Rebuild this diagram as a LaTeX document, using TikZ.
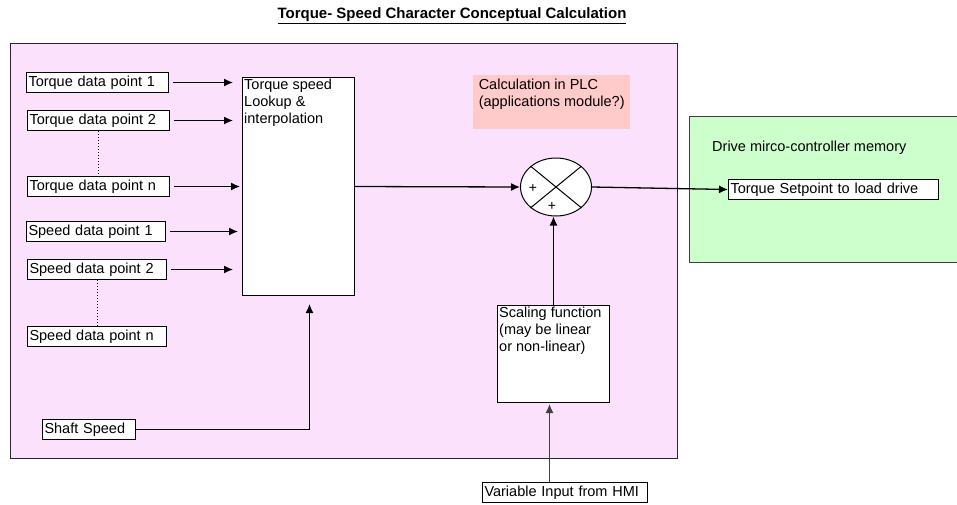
\documentclass[tikz,border=0pt]{standalone}
\usepackage{fontspec}
\setmainfont{Liberation Sans}
\usetikzlibrary{arrows.meta,calc,positioning,shapes.geometric}
\definecolor{plcpink}{HTML}{FCE1FC}
\definecolor{notepink}{HTML}{FFCACA}
\definecolor{drivegreen}{HTML}{CCFFCC}
\definecolor{wire}{HTML}{404040}
\newcommand{\bodyfont}{\fontsize{14.5}{17}\selectfont}
\tikzset{dbox/.style={draw=black, fill=white, line width=1pt, anchor=north west, inner xsep=2pt, inner ysep=0pt, minimum height=20pt, align=left, font=\bodyfont}, blk/.style={draw=black, fill=white, line width=1pt, anchor=north west, inner sep=0pt}, txt/.style={anchor=north west, align=left, inner sep=2pt, font=\bodyfont}, arr/.style={-{Latex[length=9pt,width=8pt]}, line width=1.3pt}, dots/.style={dotted, line width=1pt}}

\begin{document}
\begin{tikzpicture}[x=1pt,y=-1pt]
\useasboundingbox (0,0) rectangle (957,504);
\node (title) at (452,16) {\fontsize{15}{18}\selectfont\bfseries\underline{Torque- Speed Character Conceptual Calculation}};
% PLC area and drive memory
\draw[fill=plcpink, draw=black!85, line width=1pt] (10,43) rectangle (677,458);
\draw[fill=drivegreen, draw=black!75, line width=1pt] (689,116) rectangle (957,262);
\node[txt] (drvtxt) at (710,139) {Drive mirco-controller memory};
\node[txt, fill=notepink, minimum width=157pt, minimum height=46pt, inner sep=4pt, text depth=18pt] (note) at (473,75) {Calculation in PLC\\(applications module?)};
% input data points
\node[dbox, text width=138pt] (tq1) at (26,72) {Torque data point 1};
\node[dbox, text width=138pt] (tq2) at (27,110) {Torque data point 2};
\node[dbox, text width=138pt] (tqn) at (27,176) {Torque data point n};
\node[dbox, text width=135pt] (sp1) at (26,221) {Speed data point 1};
\node[dbox, text width=135pt] (sp2) at (27,259) {Speed data point 2};
\node[dbox, text width=135pt] (spn) at (27,326) {Speed data point n};
\node[dbox, text width=89pt] (shaft) at (42,419) {Shaft Speed};
\draw[dots] (tq2.south) -- (tqn.north);
\draw[dots] (sp2.south) -- (spn.north);
% lookup table
\node[blk, minimum width=112pt, minimum height=218pt] (lookup) at (242,77) {};
\node[txt] (lookuptxt) at (lookup.north west) {Torque speed\\Lookup \&\\interpolation};
\foreach \n/\gap in {tq1/9,tq2/9,tqn/2,sp1/4,sp2/9}{
  \draw[arr] ([xshift=4pt]\n.east) -- ([xshift=-\gap pt]lookup.west |- \n.east);
}
\draw[arr] (shaft.east) -| ([xshift=11pt,yshift=-8pt]lookup.south);
% summing point
\node[draw=black, fill=white, line width=1pt, ellipse, minimum width=71pt, minimum height=58pt, inner sep=0pt] (sum) at (556,187) {};
\draw[line width=1pt] (sum.north west) -- (sum.south east) (sum.north east) -- (sum.south west);
\node[font=\fontsize{14}{14}\selectfont, inner sep=0pt] (plusl) at (533,188) {+};
\node[font=\fontsize{14}{14}\selectfont, inner sep=0pt] (plusb) at (552,206) {+};
\draw[arr] (lookup.east) -- (sum.west);
% scaling and HMI input
\node[blk, minimum width=112pt, minimum height=97pt] (scale) at (497,305) {};
\node[txt] (scaletxt) at (scale.north west) {Scaling function\\(may be linear\\or non-linear)};
\draw[arr] (scale.north) -- (scale.north |- sum.south);
\node[dbox, text width=161pt] (hmi) at (482,482) {Variable Input from HMI};
\draw[arr, draw=wire, fill=black] ([xshift=-15.5pt]hmi.north) -- ([xshift=-15.5pt,yshift=-1pt]hmi.north |- scale.south);
% output to drive
\node[dbox, text width=206pt] (tset) at (728,179) {Torque Setpoint to load drive};
\draw[arr] (sum.east) -- (tset.west);
\end{tikzpicture}
\end{document}
